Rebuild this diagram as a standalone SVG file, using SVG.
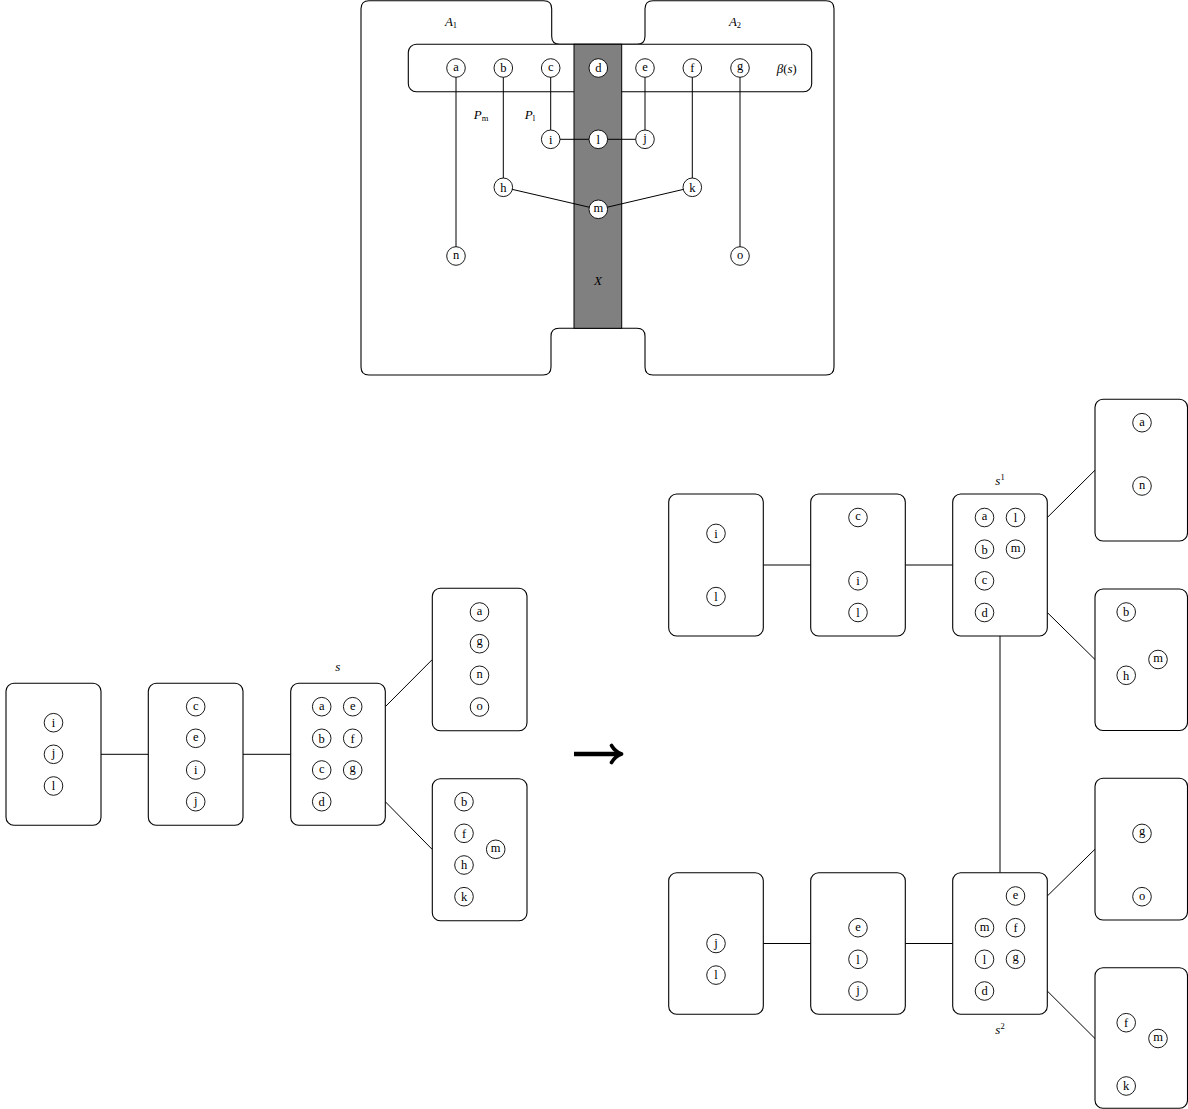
<svg xmlns="http://www.w3.org/2000/svg" width="1188" height="1109" viewBox="0 0 1188 1109">
<style>
.box{fill:#fff;stroke:#000;stroke-width:1.1}
.v circle{fill:#fff;stroke:#000;stroke-width:0.9}
text{font-family:"Liberation Serif","DejaVu Serif",serif;font-size:12.5px;fill:#000;text-anchor:middle}
.it{font-style:italic;font-size:13px}
.sub{font-style:normal;font-size:8.5px}
.edge{stroke:#000;stroke-width:1;fill:none}
</style>
<rect x="0" y="0" width="1188" height="1109" fill="#fff"/>

<!-- top: tree decomposition scene -->
<g id="bags">
<path class="box" fill="none" d="M369,0.8 H543.7 Q551.7,0.8 551.7,8.8 V36.3 Q551.7,44.3 559.7,44.3 H637 Q645,44.3 645,36.3 V8.8 Q645,0.8 653,0.8 H826 Q834,0.8 834,8.8 V367 Q834,375 826,375 H653 Q645,375 645,367 V336.3 Q645,328.3 637,328.3 H559 Q551,328.3 551,336.3 V367 Q551,375 543,375 H369 Q361,375 361,367 V8.8 Q361,0.8 369,0.8 Z"/>
<rect id="beta-s" class="box" x="408.3" y="44.3" width="403.4" height="47.4" rx="8"/>
<rect id="X" x="574" y="44.3" width="47.7" height="284" fill="#808080" stroke="#000" stroke-width="1"/>
<text x="451" y="26"><tspan class="it">A</tspan><tspan class="sub" dy="2">1</tspan></text>
<text x="735" y="26"><tspan class="it">A</tspan><tspan class="sub" dy="2">2</tspan></text>
<text x="786.7" y="72.5" fill="#333"><tspan class="it">β</tspan>(<tspan class="it">s</tspan>)</text>
<text x="481" y="119"><tspan class="it">P</tspan><tspan class="sub it" dy="2">m</tspan></text>
<text x="530" y="119"><tspan class="it">P</tspan><tspan class="sub it" dy="2">l</tspan></text>
<text class="it" x="598" y="285.3">X</text>
</g>

<g id="connectors">
<!-- top graph -->
<line class="edge" x1="456" y1="68" x2="456" y2="256"/>
<line class="edge" x1="503.3" y1="68" x2="503.3" y2="187.3"/>
<line class="edge" x1="550.7" y1="68" x2="550.7" y2="139.3"/>
<line class="edge" x1="645" y1="68" x2="645" y2="139.3"/>
<line class="edge" x1="692.3" y1="68" x2="692.3" y2="187.3"/>
<line class="edge" x1="740" y1="68" x2="740" y2="256"/>
<line class="edge" x1="550.7" y1="139.3" x2="645" y2="139.3"/>
<line class="edge" x1="503.3" y1="187.3" x2="598.3" y2="209.3"/>
<line class="edge" x1="598.3" y1="209.3" x2="692.3" y2="187.3"/>
<!-- left tree -->
<line class="edge" x1="101" y1="754.3" x2="148.3" y2="754.3"/>
<line class="edge" x1="243" y1="754.3" x2="290.7" y2="754.3"/>
<line class="edge" x1="385.3" y1="706.7" x2="432.3" y2="659.5"/>
<line class="edge" x1="385.3" y1="801.7" x2="432.3" y2="849.5"/>
<!-- right tree -->
<line class="edge" x1="763.3" y1="565" x2="810.7" y2="565"/>
<line class="edge" x1="905.3" y1="565" x2="952.7" y2="565"/>
<line class="edge" x1="1047.3" y1="517.5" x2="1095" y2="470.2"/>
<line class="edge" x1="1047.3" y1="612.5" x2="1095" y2="659.5"/>
<line class="edge" x1="1000" y1="636" x2="1000" y2="872.7"/>
<line class="edge" x1="763.3" y1="943.5" x2="810.7" y2="943.5"/>
<line class="edge" x1="905.3" y1="943.5" x2="952.7" y2="943.5"/>
<line class="edge" x1="1047.3" y1="896" x2="1095" y2="849.2"/>
<line class="edge" x1="1047.3" y1="991" x2="1095" y2="1038.5"/>
<!-- transformation arrow -->
<path d="M574,754 H618" stroke="#000" stroke-width="4.5" fill="none"/>
<path d="M611.5,745.5 Q615,751.5 621.5,754 Q615,756.5 611.5,762.5" stroke="#000" stroke-width="3.6" fill="none" stroke-linecap="round" stroke-linejoin="round"/>
</g>

<g id="top-vertices">
<g id="t-a" class="v"><circle cx="456" cy="68" r="9.3"/><text x="456" y="70.9">a</text></g>
<g id="t-b" class="v"><circle cx="503.3" cy="68" r="9.3"/><text x="503.3" y="72.3">b</text></g>
<g id="t-c" class="v"><circle cx="550.7" cy="68" r="9.3"/><text x="550.7" y="70.9">c</text></g>
<g id="t-d" class="v"><circle cx="598.3" cy="68" r="9.3"/><text x="598.3" y="72.3">d</text></g>
<g id="t-e" class="v"><circle cx="645" cy="68" r="9.3"/><text x="645" y="70.9">e</text></g>
<g id="t-f" class="v"><circle cx="692.3" cy="68" r="9.3"/><text x="692.3" y="72.3">f</text></g>
<g id="t-g" class="v"><circle cx="740" cy="68" r="9.3"/><text x="740" y="69.6">g</text></g>
<g id="t-i" class="v"><circle cx="550.7" cy="139.3" r="9.3"/><text x="550.7" y="143.6">i</text></g>
<g id="t-l" class="v"><circle cx="598.3" cy="139.3" r="9.3"/><text x="598.3" y="143.6">l</text></g>
<g id="t-j" class="v"><circle cx="645" cy="139.3" r="9.3"/><text x="645" y="142.3">j</text></g>
<g id="t-h" class="v"><circle cx="503.3" cy="187.3" r="9.3"/><text x="503.3" y="191.6">h</text></g>
<g id="t-k" class="v"><circle cx="692.3" cy="187.3" r="9.3"/><text x="692.3" y="191.6">k</text></g>
<g id="t-m" class="v"><circle cx="598.3" cy="209.3" r="9.3"/><text x="598.3" y="212.2">m</text></g>
<g id="t-n" class="v"><circle cx="456" cy="256" r="9.3"/><text x="456" y="258.9">n</text></g>
<g id="t-o" class="v"><circle cx="740" cy="256" r="9.3"/><text x="740" y="258.9">o</text></g>
</g>

<!-- left tree -->
<g id="L1"><rect class="box" x="6" y="683.3" width="95" height="142" rx="8"/>
<g class="v"><circle cx="53.5" cy="722.7" r="9.3"/><text x="53.5" y="727">i</text></g>
<g class="v"><circle cx="53.5" cy="754.3" r="9.3"/><text x="53.5" y="757.3">j</text></g>
<g class="v"><circle cx="53.5" cy="786" r="9.3"/><text x="53.5" y="790.3">l</text></g>
</g>
<g id="L2"><rect class="box" x="148.3" y="683.3" width="94.7" height="142" rx="8"/>
<g class="v"><circle cx="195.7" cy="706.7" r="9.3"/><text x="195.7" y="709.6">c</text></g>
<g class="v"><circle cx="195.7" cy="738.3" r="9.3"/><text x="195.7" y="741.2">e</text></g>
<g class="v"><circle cx="195.7" cy="770" r="9.3"/><text x="195.7" y="774.3">i</text></g>
<g class="v"><circle cx="195.7" cy="801.7" r="9.3"/><text x="195.7" y="804.7">j</text></g>
</g>
<g id="Ls"><rect class="box" x="290.7" y="683.3" width="94.6" height="142" rx="8"/>
<text class="it" x="337.8" y="671.3">s</text>
<g class="v"><circle cx="321.7" cy="706.7" r="9.3"/><text x="321.7" y="709.6">a</text></g>
<g class="v"><circle cx="352.7" cy="706.7" r="9.3"/><text x="352.7" y="709.6">e</text></g>
<g class="v"><circle cx="321.7" cy="738.3" r="9.3"/><text x="321.7" y="742.6">b</text></g>
<g class="v"><circle cx="352.7" cy="738.3" r="9.3"/><text x="352.7" y="742.6">f</text></g>
<g class="v"><circle cx="321.7" cy="770" r="9.3"/><text x="321.7" y="772.9">c</text></g>
<g class="v"><circle cx="352.7" cy="770" r="9.3"/><text x="352.7" y="771.6">g</text></g>
<g class="v"><circle cx="321.7" cy="801.7" r="9.3"/><text x="321.7" y="806">d</text></g>
</g>
<g id="L4"><rect class="box" x="432.3" y="588.3" width="94.7" height="142.4" rx="8"/>
<g class="v"><circle cx="479.5" cy="612" r="9.3"/><text x="479.5" y="614.9">a</text></g>
<g class="v"><circle cx="479.5" cy="643.7" r="9.3"/><text x="479.5" y="645.3">g</text></g>
<g class="v"><circle cx="479.5" cy="675.3" r="9.3"/><text x="479.5" y="678.2">n</text></g>
<g class="v"><circle cx="479.5" cy="707" r="9.3"/><text x="479.5" y="709.9">o</text></g>
</g>
<g id="L5"><rect class="box" x="432.3" y="778.7" width="94.7" height="142" rx="8"/>
<g class="v"><circle cx="464" cy="801.7" r="9.3"/><text x="464" y="806">b</text></g>
<g class="v"><circle cx="464" cy="833.3" r="9.3"/><text x="464" y="837.6">f</text></g>
<g class="v"><circle cx="464" cy="865" r="9.3"/><text x="464" y="869.3">h</text></g>
<g class="v"><circle cx="464" cy="896.7" r="9.3"/><text x="464" y="901">k</text></g>
<g class="v"><circle cx="495.7" cy="849.3" r="9.3"/><text x="495.7" y="852.2">m</text></g>
</g>

<!-- right tree -->
<g id="RA"><rect class="box" x="668.7" y="494" width="94.6" height="142" rx="8"/>
<g class="v"><circle cx="716" cy="533.4" r="9.3"/><text x="716" y="537.7">i</text></g>
<g class="v"><circle cx="716" cy="596.6" r="9.3"/><text x="716" y="600.9">l</text></g>
</g>
<g id="RB"><rect class="box" x="810.7" y="494" width="94.6" height="142" rx="8"/>
<g class="v"><circle cx="858" cy="517.5" r="9.3"/><text x="858" y="520.4">c</text></g>
<g class="v"><circle cx="858" cy="580.8" r="9.3"/><text x="858" y="585.1">i</text></g>
<g class="v"><circle cx="858" cy="612.5" r="9.3"/><text x="858" y="616.8">l</text></g>
</g>
<g id="Rs1"><rect class="box" x="952.7" y="494" width="94.6" height="142" rx="8"/>
<text x="1000" y="485.3"><tspan class="it">s</tspan><tspan class="sub" dy="-5">1</tspan></text>
<g class="v"><circle cx="984.5" cy="517.5" r="9.3"/><text x="984.5" y="520.4">a</text></g>
<g class="v"><circle cx="1015.5" cy="517.5" r="9.3"/><text x="1015.5" y="521.8">l</text></g>
<g class="v"><circle cx="984.5" cy="549.2" r="9.3"/><text x="984.5" y="553.5">b</text></g>
<g class="v"><circle cx="1015.5" cy="549.2" r="9.3"/><text x="1015.5" y="552.1">m</text></g>
<g class="v"><circle cx="984.5" cy="580.8" r="9.3"/><text x="984.5" y="583.7">c</text></g>
<g class="v"><circle cx="984.5" cy="612.5" r="9.3"/><text x="984.5" y="616.8">d</text></g>
</g>
<g id="RD"><rect class="box" x="1095" y="399.3" width="92.5" height="141.7" rx="8"/>
<g class="v"><circle cx="1142" cy="422.7" r="9.3"/><text x="1142" y="425.6">a</text></g>
<g class="v"><circle cx="1142" cy="486" r="9.3"/><text x="1142" y="488.9">n</text></g>
</g>
<g id="RE"><rect class="box" x="1095" y="589" width="92.5" height="141.5" rx="8"/>
<g class="v"><circle cx="1126.2" cy="612" r="9.3"/><text x="1126.2" y="616.3">b</text></g>
<g class="v"><circle cx="1126.2" cy="675.3" r="9.3"/><text x="1126.2" y="679.6">h</text></g>
<g class="v"><circle cx="1158" cy="659.5" r="9.3"/><text x="1158" y="662.4">m</text></g>
</g>
<g id="RF"><rect class="box" x="668.7" y="872.7" width="94.6" height="141.6" rx="8"/>
<g class="v"><circle cx="716" cy="943.5" r="9.3"/><text x="716" y="946.5">j</text></g>
<g class="v"><circle cx="716" cy="975.1" r="9.3"/><text x="716" y="979.4">l</text></g>
</g>
<g id="RG"><rect class="box" x="810.7" y="872.7" width="94.6" height="141.6" rx="8"/>
<g class="v"><circle cx="858" cy="927.7" r="9.3"/><text x="858" y="930.6">e</text></g>
<g class="v"><circle cx="858" cy="959.3" r="9.3"/><text x="858" y="963.6">l</text></g>
<g class="v"><circle cx="858" cy="991" r="9.3"/><text x="858" y="994">j</text></g>
</g>
<g id="Rs2"><rect class="box" x="952.7" y="872.7" width="94.6" height="141.6" rx="8"/>
<text x="1000" y="1034.3"><tspan class="it">s</tspan><tspan class="sub" dy="-5">2</tspan></text>
<g class="v"><circle cx="1015.5" cy="896" r="9.3"/><text x="1015.5" y="898.9">e</text></g>
<g class="v"><circle cx="984.5" cy="927.7" r="9.3"/><text x="984.5" y="930.6">m</text></g>
<g class="v"><circle cx="1015.5" cy="927.7" r="9.3"/><text x="1015.5" y="932">f</text></g>
<g class="v"><circle cx="984.5" cy="959.3" r="9.3"/><text x="984.5" y="963.6">l</text></g>
<g class="v"><circle cx="1015.5" cy="959.3" r="9.3"/><text x="1015.5" y="960.9">g</text></g>
<g class="v"><circle cx="984.5" cy="991" r="9.3"/><text x="984.5" y="995.3">d</text></g>
</g>
<g id="RI"><rect class="box" x="1095" y="778.3" width="92.5" height="141.7" rx="8"/>
<g class="v"><circle cx="1142" cy="833.4" r="9.3"/><text x="1142" y="835">g</text></g>
<g class="v"><circle cx="1142" cy="896.7" r="9.3"/><text x="1142" y="899.6">o</text></g>
</g>
<g id="RJ"><rect class="box" x="1095" y="967.7" width="92.5" height="140.5" rx="8"/>
<g class="v"><circle cx="1126.2" cy="1022.7" r="9.3"/><text x="1126.2" y="1027">f</text></g>
<g class="v"><circle cx="1126.2" cy="1086" r="9.3"/><text x="1126.2" y="1090.3">k</text></g>
<g class="v"><circle cx="1158" cy="1038.5" r="9.3"/><text x="1158" y="1041.4">m</text></g>
</g>
</svg>
